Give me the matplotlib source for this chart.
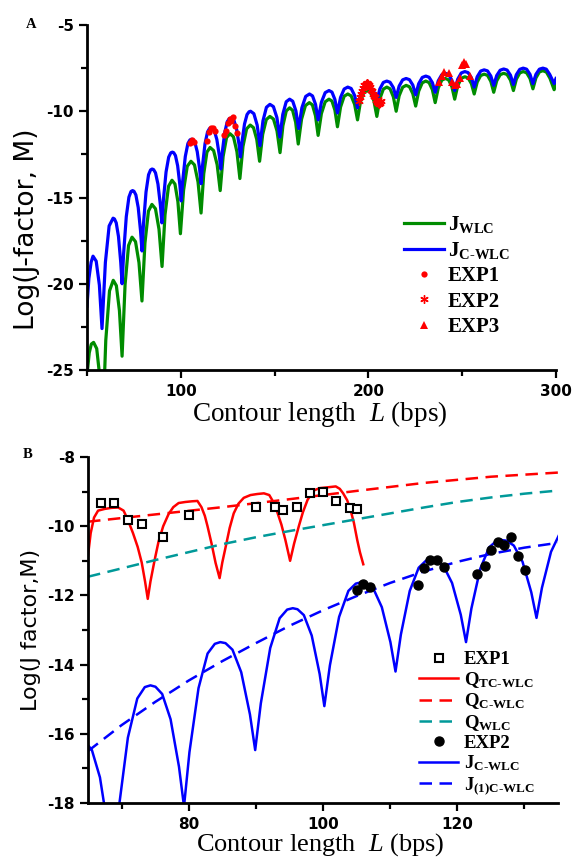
import matplotlib
matplotlib.use("Agg")
import matplotlib.pyplot as plt

plt.rcParams['axes.unicode_minus'] = False
plt.rcParams['mathtext.fontset'] = 'custom'
plt.rcParams['mathtext.rm'] = 'Liberation Serif'
plt.rcParams['mathtext.it'] = 'Liberation Serif:italic'
plt.rcParams['mathtext.bf'] = 'Liberation Serif:bold'

# J_C-WLC (blue): contour length (bp), log J
jc_L = [50.0, 51.0, 52.2, 53.2, 54.9, 56.6, 58.0, 59.8, 61.8, 63.9,
        64.62, 65.58, 66.78, 67.98, 68.7, 69.54, 70.94, 72.34, 73.46, 74.3,
        75.05, 76.05, 77.3, 78.55, 79.3, 80.11, 81.46, 82.81, 83.89, 84.7,
        85.48, 86.52, 87.82, 89.12, 89.9, 90.74, 92.14, 93.54, 94.66, 95.5,
        96.2, 97.15, 98.32, 99.5, 100.2, 101.03, 102.4, 103.78, 104.88, 105.7,
        106.47, 107.49, 108.76, 110.04, 110.8, 111.6, 112.92, 114.25, 115.31, 116.1,
        116.88, 117.92, 119.22, 120.52, 121.3, 122.1, 123.42, 124.75, 125.81, 126.6,
        127.38, 128.42, 129.72, 131.02, 131.8, 132.61, 133.96, 135.31, 136.39, 137.2,
        138.95, 140.7, 142.2, 143.79, 145.65, 147.5, 149.36, 151.21, 152.8,
        154.36, 156.18, 158.0, 159.68, 161.36, 162.8, 164.54, 166.57, 168.6,
        170.21, 171.82, 173.2, 174.94, 176.97, 179.0, 180.58, 182.15, 183.5,
        185.15, 187.08, 189.0, 190.82, 192.64, 194.2, 195.73, 197.52, 199.3,
        201.12, 202.94, 204.5, 206.09, 207.95, 209.8, 211.55, 213.3, 214.8,
        216.39, 218.25, 220.1, 221.89, 223.67, 225.2, 226.82, 228.71, 230.6,
        232.35, 234.1, 235.6, 237.22, 239.11, 241.0, 242.75, 244.5, 246.0,
        247.62, 249.51, 251.4, 253.15, 254.9, 256.4, 257.99, 259.85, 261.7,
        263.49, 265.27, 266.8, 268.39, 270.25, 272.1, 273.92, 275.74, 277.3,
        278.86, 280.68, 282.5, 284.32, 286.14, 287.7, 289.29, 291.15, 293.0,
        294.82, 296.64, 299.0, 300.0]
jc_v = [-21.3, -19.7, -18.75, -18.4, -18.69, -20.08, -22.6, -18.76, -16.65, -16.2,
        -16.24, -16.47, -17.26, -18.75, -20.0, -18.22, -16.11, -14.98, -14.65, -14.6,
        -14.64, -14.85, -15.58, -16.95, -18.1, -16.53, -14.68, -13.68, -13.40, -13.35,
        -13.38, -13.57, -14.22, -15.44, -16.47, -15.12, -13.52, -12.66, -12.41, -12.37,
        -12.40, -12.57, -13.16, -14.27, -15.2, -14.02, -12.62, -11.87, -11.66, -11.62,
        -11.65, -11.80, -12.34, -13.35, -14.2, -13.13, -11.87, -11.20, -11.0, -10.97,
        -10.99, -11.14, -11.64, -12.56, -13.35, -12.38, -11.23, -10.61, -10.43, -10.4,
        -10.42, -10.56, -11.03, -11.91, -12.65, -11.78, -10.74, -10.19, -10.03, -10.0,
        -10.14, -10.8, -12.0, -10.56, -9.77, -9.6, -9.73, -10.36, -11.5,
        -10.18, -9.45, -9.3, -9.42, -9.98, -11.0, -9.8, -9.14, -9.0,
        -9.11, -9.6, -10.5, -9.48, -8.92, -8.8, -8.89, -9.32, -10.1,
        -9.2, -8.71, -8.6, -8.68, -9.08, -9.8, -9.02, -8.59, -8.5,
        -8.56, -8.86, -9.4, -8.71, -8.33, -8.25, -8.32, -8.63, -9.2,
        -8.54, -8.18, -8.1, -8.17, -8.48, -9.05, -8.40, -8.04, -7.96,
        -8.03, -8.34, -8.9, -8.24, -7.88, -7.8, -7.87, -8.2, -8.8,
        -8.14, -7.78, -7.7, -7.76, -8.06, -8.6, -8.0, -7.67, -7.6,
        -7.66, -7.96, -8.5, -7.93, -7.62, -7.55, -7.61, -7.91, -8.45,
        -7.88, -7.57, -7.5, -7.56, -7.86, -8.4, -7.86, -7.56, -7.5,
        -7.56, -7.86, -8.4, -8.1]

# J_WLC (green)
jw_L = [50.0, 51.2, 52.3, 53.5, 55.18, 56.86, 58.3, 60.01, 62.0, 64.0,
        65.65, 67.29, 68.7, 70.29, 72.15, 74.0, 75.86, 77.71, 79.3,
        80.89, 82.75, 84.6, 86.49, 88.38, 90.0, 91.59, 93.45, 95.3,
        96.88, 98.45, 99.8, 101.48, 103.44, 105.4, 107.29, 109.18, 110.8,
        112.24, 113.92, 115.6, 117.49, 119.38, 121.0, 122.56, 124.38, 126.2,
        128.06, 129.91, 131.5, 133.15, 135.08, 137.0, 138.75, 140.5, 142.0,
        143.65, 145.58, 147.5, 149.39, 151.28, 152.9, 154.43, 156.22, 158.0,
        159.61, 161.22, 162.6, 164.37, 166.44, 168.5, 170.15, 171.79, 173.2,
        174.94, 176.97, 179.0, 180.58, 182.15, 183.5, 185.15, 187.08, 189.0,
        190.82, 192.64, 194.2, 195.73, 197.52, 199.3, 201.12, 202.94, 204.5,
        206.09, 207.95, 209.8, 211.55, 213.3, 214.8, 216.39, 218.25, 220.1,
        221.89, 223.67, 225.2, 226.82, 228.71, 230.6, 232.35, 234.1, 235.6,
        237.22, 239.11, 241.0, 242.75, 244.5, 246.0, 247.62, 249.51, 251.4,
        253.15, 254.9, 256.4, 257.99, 259.85, 261.7, 263.49, 265.27, 266.8,
        268.39, 270.25, 272.1, 273.92, 275.74, 277.3, 278.86, 280.68, 282.5,
        284.32, 286.14, 287.7, 289.29, 291.15, 293.0, 294.89, 296.78, 299.0, 300.0]
jw_v = [-25.3, -24.0, -23.5, -23.4, -23.76, -25.44, -28.5, -23.28, -20.41, -19.8,
        -20.11, -21.56, -24.2, -20.06, -17.78, -17.3, -17.56, -18.78, -21.0,
        -17.64, -15.79, -15.4, -15.65, -16.84, -19.0, -16.0, -14.35, -14.0,
        -14.22, -15.24, -17.1, -14.58, -13.19, -12.9, -13.11, -14.1, -15.9,
        -13.62, -12.37, -12.1, -12.28, -13.1, -14.6, -12.62, -11.53, -11.3,
        -11.48, -12.34, -13.9, -12.04, -11.02, -10.8, -10.95, -11.64, -12.9,
        -11.34, -10.48, -10.3, -10.45, -11.14, -12.4, -10.84, -9.98, -9.8,
        -9.95, -10.64, -11.9, -10.46, -9.67, -9.5, -9.63, -10.26, -11.4,
        -10.14, -9.45, -9.3, -9.41, -9.94, -10.9, -9.76, -9.13, -9.0,
        -9.11, -9.6, -10.5, -9.48, -8.92, -8.8, -8.91, -9.4, -10.3,
        -9.28, -8.72, -8.6, -8.70, -9.16, -10.0, -9.1, -8.61, -8.5,
        -8.58, -8.98, -9.7, -8.83, -8.35, -8.25, -8.34, -8.75, -9.5,
        -8.66, -8.2, -8.1, -8.18, -8.58, -9.3, -8.52, -8.09, -8.0,
        -8.07, -8.4, -9.0, -8.31, -7.93, -7.85, -7.92, -8.27, -8.9,
        -8.24, -7.88, -7.8, -7.87, -8.2, -8.8, -8.14, -7.78, -7.7,
        -7.77, -8.1, -8.7, -8.07, -7.72, -7.65, -7.73, -8.09, -8.75, -8.45]

# experimental J-factors (EXP1 in A = EXP2 in B)
exp_L = [105.0, 106.0, 107.0, 114.1, 115.0, 116.0, 117.0, 118.0,
         123.0, 124.1, 125.0, 126.0, 127.0, 128.0, 129.1, 130.1]
exp_v = [-11.84, -11.67, -11.77, -11.7, -11.22, -10.98, -10.98, -11.17,
         -11.39, -11.14, -10.69, -10.47, -10.54, -10.32, -10.86, -11.27]

ast_L = [195.0, 195.5, 196.0, 196.5, 197.0, 197.5, 198.0, 198.5, 199.0, 199.5, 200.0, 200.5,
         201.0, 201.5, 202.0, 202.5, 203.0, 203.5, 204.0, 204.5, 205.0, 205.5, 206.0, 206.5]
ast_v = [-9.4, -9.2, -9.0, -8.8, -8.65, -8.5, -8.45, -8.4, -8.35, -8.35, -8.4, -8.5,
         -8.6, -8.75, -8.85, -9.0, -9.1, -9.2, -9.35, -9.45, -9.55, -9.6, -9.5, -9.4]

tri_L = [237.5, 239.0, 240.5, 242.8, 244.5, 246.0, 247.2, 249.0, 249.8, 250.8, 252.0, 254.0]
tri_v = [-8.28, -7.95, -7.7, -7.78, -8.28, -8.48, -8.4, -8.1, -7.3, -7.15, -7.25, -7.95]

# panel B
sq_L = [67.0, 68.9, 70.9, 73.0, 76.1, 80.1, 90.0, 92.9, 94.1, 96.1, 98.0, 100.0, 102.0, 104.0, 105.0]
sq_v = [-9.32, -9.32, -9.82, -9.95, -10.3, -9.68, -9.45, -9.45, -9.53, -9.44, -9.03, -9.0, -9.27, -9.47, -9.51]

qtc_L = [65.0, 65.4, 65.9, 66.5, 67.5, 68.5, 69.5, 70.3, 70.9, 71.7, 72.4, 73.0, 73.5, 73.9,
         74.3, 74.9, 75.5, 76.2, 77.0, 77.7, 78.5, 79.5, 80.5, 81.3, 81.9, 82.4, 82.8, 83.4,
         84.0, 84.6, 85.0, 85.5, 86.1, 86.7, 87.4, 88.2, 89.2, 90.2, 91.2, 92.0, 92.6, 93.2,
         93.8, 94.4, 95.1, 95.7, 96.4, 97.0, 97.7, 98.6, 99.5, 100.5, 101.9, 102.5, 103.0,
         103.6, 104.1, 104.6, 105.1, 105.5, 106.0]
qtc_v = [-10.85, -10.2, -9.75, -9.55, -9.5, -9.47, -9.46, -9.55, -9.8, -10.2, -10.6, -11.05, -11.6, -12.1,
         -11.6, -11.0, -10.45, -10.0, -9.65, -9.45, -9.33, -9.3, -9.28, -9.27, -9.45, -9.7, -10.0, -10.5,
         -11.06, -11.5, -11.05, -10.6, -10.05, -9.63, -9.35, -9.18, -9.1, -9.07, -9.05, -9.1, -9.3, -9.6,
         -9.95, -10.4, -11.0, -10.5, -10.0, -9.6, -9.24, -8.97, -8.9, -8.88, -8.85, -8.92, -9.05,
         -9.25, -9.53, -9.9, -10.4, -10.75, -11.1]

qc_L = [65, 75, 85, 95, 105, 115, 125, 135]
qc_v = [-9.87, -9.66, -9.45, -9.22, -8.98, -8.75, -8.57, -8.45]

qw_L = [65, 70, 75, 80, 85, 90, 95, 100, 105, 110, 115, 120, 125, 130, 135]
qw_v = [-11.46, -11.22, -10.98, -10.75, -10.52, -10.32, -10.14, -9.97, -9.8, -9.63, -9.46, -9.3, -9.17, -9.06, -8.97]

j1_L = [65, 70, 75, 80, 85, 90, 95, 100, 105, 110, 115, 120, 125, 130, 135]
j1_v = [-16.5, -15.75, -15.08, -14.46, -13.9, -13.38, -12.88, -12.43, -12.02, -11.64, -11.31, -11.03, -10.8, -10.62, -10.48]

GREEN = '#008c00'
BLUE = '#0000ff'
RED = '#ff0000'
TEAL = '#009999'

W, H = 572, 859
fig = plt.figure(figsize=(W / 100, H / 100), dpi=100)
axA = fig.add_axes([87 / W, 1 - 370 / H, 469 / W, 345 / H])
axB = fig.add_axes([88 / W, 1 - 803 / H, 470 / W, 346 / H])

tickfont = {'family': 'DejaVu Sans', 'weight': 'bold', 'size': 11}
legfont = {'family': 'Liberation Serif', 'weight': 'bold', 'size': 15}

for ax in (axA, axB):
    ax.spines['top'].set_visible(False)
    ax.spines['right'].set_visible(False)
    ax.spines['left'].set_linewidth(2)
    ax.spines['bottom'].set_linewidth(2)
    ax.tick_params(which='major', direction='out', length=6, width=1.6)
    ax.tick_params(which='minor', direction='out', length=4, width=1.6)
    ax.tick_params(axis='x', which='major', pad=4)
    ax.tick_params(axis='y', which='major', pad=3.5)

# ---- panel A ----
axA.plot(jw_L, jw_v, color=GREEN, lw=2.3, label=r'$\mathbf{J}_{\mathbf{WLC}}$')
axA.plot(jc_L, jc_v, color=BLUE, lw=2.3, label=r'$\mathbf{J}_{\mathbf{C‐WLC}}$')
axA.plot(exp_L, exp_v, 'o', color=RED, ms=4.5, mew=0, label='EXP1')
axA.plot(ast_L, ast_v, ls='none', marker=(6, 2, 0), color=RED, ms=6, mew=1, label='EXP2')
axA.plot(tri_L, tri_v, '^', color=RED, ms=6, mew=0, label='EXP3')
axA.set_xlim(50, 300)
axA.set_ylim(-25, -5)
axA.set_xticks([100, 200, 300])
axA.set_xticks([50, 150, 250], minor=True)
axA.set_yticks([-25, -20, -15, -10, -5])
axA.set_yticks([-22.5, -17.5, -12.5, -7.5], minor=True)
for lab in axA.get_xticklabels() + axA.get_yticklabels():
    lab.set_fontproperties(tickfont)
axA.legend(loc='upper left', bbox_to_anchor=(404 / W, 1 - 214 / H),
           bbox_transform=fig.transFigure, frameon=False, prop=legfont,
           borderpad=0, borderaxespad=0, handlelength=1.9, handletextpad=0.2,
           labelspacing=0.25, numpoints=1)

# ---- panel B ----
axB.plot(sq_L, sq_v, 's', ms=5.5, mfc='white', mec='black', mew=1.5, label='EXP1', zorder=5)
axB.plot(qtc_L, qtc_v, color=RED, lw=1.8, label=r'$\mathbf{Q}_{\mathbf{TC‐WLC}}$')
axB.plot(qc_L, qc_v, color=RED, lw=1.8, dashes=(5, 3), label=r'$\mathbf{Q}_{\mathbf{C‐WLC}}$')
axB.plot(qw_L, qw_v, color=TEAL, lw=1.8, dashes=(5, 3), label=r'$\mathbf{Q}_{\mathbf{WLC}}$')
axB.plot(exp_L, exp_v, 'o', color='black', ms=6.5, label='EXP2', zorder=5)
axB.plot(jc_L, jc_v, color=BLUE, lw=1.8, label=r'$\mathbf{J}_{\mathbf{C‐WLC}}$')
axB.plot(j1_L, j1_v, color=BLUE, lw=1.8, dashes=(5, 3), label=r'$\mathbf{J}_{\mathbf{(1)C‐WLC}}$')
axB.set_xlim(65, 135)
axB.set_ylim(-18, -8)
axB.set_xticks([80, 100, 120])
axB.set_xticks([70, 90, 110, 130], minor=True)
axB.set_yticks([-18, -16, -14, -12, -10, -8])
axB.set_yticks([-17, -15, -13, -11, -9], minor=True)
for lab in axB.get_xticklabels() + axB.get_yticklabels():
    lab.set_fontproperties(tickfont)
legB = dict(legfont, size=13.5)
axB.legend(loc='upper left', bbox_to_anchor=(419 / W, 1 - 651 / H),
           bbox_transform=fig.transFigure, frameon=False, prop=legB,
           borderpad=0, borderaxespad=0, handlelength=2.1, handletextpad=0.3,
           labelspacing=0.09, numpoints=1)

# labels
fig.text(27 / W, 1 - 229 / H, 'Log(J-factor, M)', rotation=90, ha='center', va='center',
         family='DejaVu Sans', size=19)
fig.text(31 / W, 1 - 630 / H, 'Log(J factor,M)', rotation=90, ha='center', va='center',
         family='DejaVu Sans', size=16)
fig.text(320 / W, 1 - 421 / H, r'Contour length  $L$ (bps)', ha='center', va='baseline',
         family='Liberation Serif', size=19.5)
fig.text(320 / W, 1 - 851 / H, r'Contour length  $L$ (bps)', ha='center', va='baseline',
         family='Liberation Serif', size=19)
fig.text(31 / W, 1 - 24 / H, 'A', ha='center', va='center', family='Liberation Serif',
         weight='bold', size=10.5)
fig.text(27.5 / W, 1 - 455 / H, 'B', ha='center', va='center', family='Liberation Serif',
         weight='bold', size=10.5)

fig.savefig('out.png', dpi=100, facecolor='white')
